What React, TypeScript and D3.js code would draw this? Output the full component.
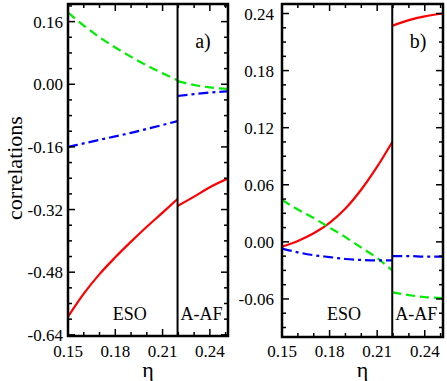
import { useRef, useEffect } from 'react';
import * as d3 from 'd3';

// eta grid, split at the ESO / A-AF transition
const etaESO = [0.15, 0.16, 0.17, 0.18, 0.19, 0.2, 0.21, 0.2195];
const etaAAF = [0.2195, 0.23, 0.24, 0.2515];

// panel a)
const redA_ESO = [-0.594, -0.535, -0.485, -0.442, -0.402, -0.364, -0.328, -0.293];
const redA_AAF = [-0.311, -0.287, -0.263, -0.241];
const greenA_ESO = [0.183, 0.15, 0.12, 0.094, 0.07, 0.048, 0.028, 0.01];
const greenA_AAF = [0.008, -0.002, -0.008, -0.012];
const blueA_ESO = [-0.16, -0.151, -0.142, -0.133, -0.124, -0.114, -0.104, -0.094];
const blueA_AAF = [-0.03, -0.025, -0.021, -0.018];

// panel b)
const redB_ESO = [-0.005, 0.001, 0.009, 0.02, 0.035, 0.055, 0.079, 0.105];
const redB_AAF = [0.227, 0.233, 0.237, 0.24];
const greenB_ESO = [0.044, 0.034, 0.025, 0.015, 0.005, -0.006, -0.017, -0.03];
const greenB_AAF = [-0.053, -0.056, -0.058, -0.059];
const blueB_ESO = [-0.007, -0.011, -0.014, -0.016, -0.018, -0.019, -0.0195, -0.0195];
const blueB_AAF = [-0.015, -0.015, -0.0155, -0.0155];

const xMajor = [0.15, 0.18, 0.21, 0.24];
const xMinor = d3.range(0.15, 0.2516, 0.01);
const yMajorA = [-0.64, -0.48, -0.32, -0.16, 0, 0.16];
const yMajorB = [-0.06, 0, 0.06, 0.12, 0.18, 0.24];

const RED = '#ff0000';
const GREEN = '#00ee00';
const BLUE = '#0000ff';
const FONT = 'Liberation Serif';

type Series = { eta: number[]; values: number[]; color: string; dash?: string };

type PanelCfg = {
  left: number; right: number; top: number; bottom: number;
  yDomain: [number, number];
  yMajor: number[]; yMinorStep: number;
  yLabelX: number;
  series: Series[];
  tag: string;
};

const dashed = '9,5';
const dashDot = '10,4,3,4';

const panels: PanelCfg[] = [
  {
    left: 68, right: 228, top: 4, bottom: 336,
    yDomain: [-0.643, 0.205], yMajor: yMajorA, yMinorStep: 0.04, yLabelX: 63, tag: 'a',
    series: [
      { eta: etaESO, values: redA_ESO, color: RED },
      { eta: etaAAF, values: redA_AAF, color: RED },
      { eta: etaESO, values: greenA_ESO, color: GREEN, dash: dashed },
      { eta: etaAAF, values: greenA_AAF, color: GREEN, dash: dashed },
      { eta: etaESO, values: blueA_ESO, color: BLUE, dash: dashDot },
      { eta: etaAAF, values: blueA_AAF, color: BLUE, dash: dashDot },
    ],
  },
  {
    left: 282, right: 443, top: 4, bottom: 337,
    yDomain: [-0.1, 0.25], yMajor: yMajorB, yMinorStep: 0.015, yLabelX: 274, tag: 'b',
    series: [
      { eta: etaESO, values: redB_ESO, color: RED },
      { eta: etaAAF, values: redB_AAF, color: RED },
      { eta: etaESO, values: greenB_ESO, color: GREEN, dash: dashed },
      { eta: etaAAF, values: greenB_AAF, color: GREEN, dash: dashed },
      { eta: etaESO, values: blueB_ESO, color: BLUE, dash: dashDot },
      { eta: etaAAF, values: blueB_AAF, color: BLUE, dash: dashDot },
    ],
  },
];

function fmt(v: number) {
  return (Math.abs(v) < 1e-9 ? 0 : v).toFixed(2);
}

function addText(g: any, x: number, y: number, txt: string, size: number, anchor = 'start') {
  return g.append('text')
    .attr('x', x).attr('y', y)
    .attr('font-family', FONT)
    .attr('font-size', size)
    .attr('text-anchor', anchor)
    .text(txt);
}

export default function App() {
  const svgRef = useRef<SVGSVGElement>(null);

  useEffect(() => {
    const svg = d3.select(svgRef.current);
    svg.selectAll('*').remove();

    addText(svg, 0, 0, 'correlations', 22, 'middle')
      .attr('transform', 'translate(22,168) rotate(-90)');

    panels.forEach((p) => {
      const g = svg.append('g');
      const x = d3.scaleLinear().domain([0.15, 0.2515]).range([p.left, p.right]);
      const y = d3.scaleLinear().domain(p.yDomain).range([p.bottom, p.top]);
      const line = d3.line<[number, number]>()
        .x((d) => x(d[0]))
        .y((d) => y(d[1]))
        .curve(d3.curveMonotoneX);
      const xt = x(0.2195);
      const clipId = 'clip-' + p.tag;

      g.append('clipPath').attr('id', clipId)
        .append('rect')
        .attr('x', p.left).attr('y', p.top)
        .attr('width', p.right - p.left).attr('height', p.bottom - p.top);

      const plot = g.append('g').attr('clip-path', 'url(#' + clipId + ')');
      p.series.forEach((s) => {
        plot.append('path')
          .datum(s.eta.map((e, j) => [e, s.values[j]] as [number, number]))
          .attr('d', line)
          .attr('fill', 'none')
          .attr('stroke', s.color)
          .attr('stroke-width', 2.2)
          .attr('stroke-dasharray', s.dash || null);
      });

      g.append('line')
        .attr('x1', xt).attr('x2', xt).attr('y1', p.top).attr('y2', p.bottom)
        .attr('stroke', '#000').attr('stroke-width', 2);

      // ticks point inward on all four sides
      const ticks = g.append('g').attr('stroke', '#000').attr('stroke-width', 1.5);
      xMinor.forEach((v) => {
        const len = xMajor.some((m) => Math.abs(m - v) < 1e-6) ? 7 : 4;
        ticks.append('line').attr('x1', x(v)).attr('x2', x(v)).attr('y1', p.bottom).attr('y2', p.bottom - len);
        ticks.append('line').attr('x1', x(v)).attr('x2', x(v)).attr('y1', p.top).attr('y2', p.top + len);
      });
      d3.range(p.yMajor[0] - p.yMinorStep * 4, p.yDomain[1], p.yMinorStep)
        .filter((v) => v >= p.yDomain[0] && v <= p.yDomain[1])
        .forEach((v) => {
          const len = p.yMajor.some((m) => Math.abs(m - v) < 1e-6) ? 7 : 4;
          ticks.append('line').attr('x1', p.left).attr('x2', p.left + len).attr('y1', y(v)).attr('y2', y(v));
          ticks.append('line').attr('x1', p.right).attr('x2', p.right - len).attr('y1', y(v)).attr('y2', y(v));
        });

      addText(g, p.left + (xt - p.left) / 2 + 7, 320, 'ESO', 18, 'middle');
      addText(g, xt + 3, 320, 'A-AF', 18);

      g.append('rect')
        .attr('x', p.left).attr('y', p.top)
        .attr('width', p.right - p.left).attr('height', p.bottom - p.top)
        .attr('fill', 'none').attr('stroke', '#000').attr('stroke-width', 2.5);

      xMajor.forEach((v) => addText(g, x(v), 357, v.toFixed(2), 17, 'middle'));
      p.yMajor.forEach((v) => addText(g, p.yLabelX, y(v) + 6, fmt(v), 17, 'end'));
      addText(g, (p.left + p.right) / 2, 377, 'η', 22, 'middle');
      addText(g, p.right - 25, 48, p.tag + ')', 20, 'middle');
    });
  }, []);

  return (
    <svg
      ref={svgRef}
      width={447}
      height={381}
      style={{ position: 'absolute', left: 0, top: 0, background: '#fff' }}
    />
  );
}
